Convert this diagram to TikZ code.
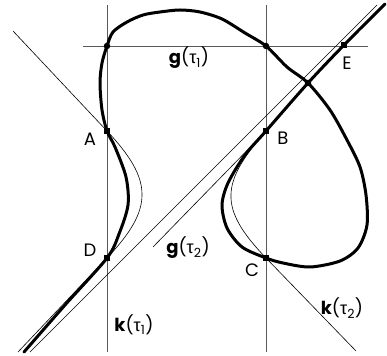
\documentclass[tikz,border=0pt]{standalone}
\usepackage{fontspec}
\setmainfont{Poppins}
\newfontfamily\grk{Liberation Sans}
\usepackage{tikz}
\usetikzlibrary{positioning}

\newcommand{\tautxt}{{\grk τ}}

\begin{document}
\begin{tikzpicture}[
    x=1pt, y=1pt,
    curve/.style={line width=3pt, line join=round, line cap=round},
    approx/.style={line width=0.6pt},
    guide/.style={line width=0.6pt, draw=black!65},
    sq/.style={rectangle, fill, inner sep=0pt, minimum size=6.5pt},
    dot/.style={circle, fill, inner sep=0pt, minimum size=6.5pt},
    lbl/.style={font=\fontsize{18}{20}\selectfont, inner sep=0pt}
]
\useasboundingbox (0,0) rectangle (387,355);
% points on the curve
\coordinate (A) at (107,224);
\coordinate (B) at (266,224);
\coordinate (C) at (266,97);
\coordinate (D) at (107,97);
\coordinate (E) at (344,310);
\coordinate (P1) at (107,309);
\coordinate (P2) at (266,309);
\coordinate (X) at (308,272);

% guide lines
\draw[guide] (107,3) -- (107,350);
\draw[guide] (266,3) -- (266,350);
\draw[guide] (83,309) -- (368,309);

% thin lines and approximations
\draw[approx] (30,3) -- (377,350);
\draw[approx] (153,108) -- (B);
\draw[approx] (13,324) -- (A) .. controls (153.6,174.4) and (153.8,146.4) .. (D) -- (18,3);
\draw[approx] (356,4) -- (C) .. controls (218,147) and (220.5,172) .. (B);

% the curve
\draw[curve] plot[smooth] coordinates {
    (24,3) (65,50) (D) (119,121) (128,150) (126,178) (115,208) (A)
    (102,245) (100,272) (102,292) (P1) (113,323) (127,333) (143,340)
    (160,343) (180,345) (200,343) (222,336) (245,322) (P2) (287,288)
    (X) (330,245) (347,215) (360,188) (366,160) (367,130) (358,107)
    (340,94) (310,88) (283,92) (C) (242,108) (227,127) (222,150)
    (228,172) (245,200) (B) (X) (E) (385,351)};

% markers
\foreach \p in {A,B,C,D,E}
    \node[sq] (sq\p) at (\p) {};
\foreach \p in {P1,P2,X}
    \node[dot] (dot\p) at (\p) {};

% labels
\node[lbl] (labA) at (90,216) {A};
\node[lbl] (labB) at (283,217) {B};
\node[lbl] (labC) at (252,85) {C};
\node[lbl] (labD) at (90,105) {D};
\node[lbl] (labE) at (347,292) {E};
\node[lbl] (labG1) at (189,297) {\textbf{g}(\tautxt\textsubscript{1})};
\node[lbl] (labG2) at (188,107) {\textbf{g}(\tautxt\textsubscript{2})};
\node[lbl] (labK1) at (134,30) {\textbf{k}(\tautxt\textsubscript{1})};
\node[lbl] (labK2) at (342,47) {\textbf{k}(\tautxt\textsubscript{2})};
\end{tikzpicture}
\end{document}
